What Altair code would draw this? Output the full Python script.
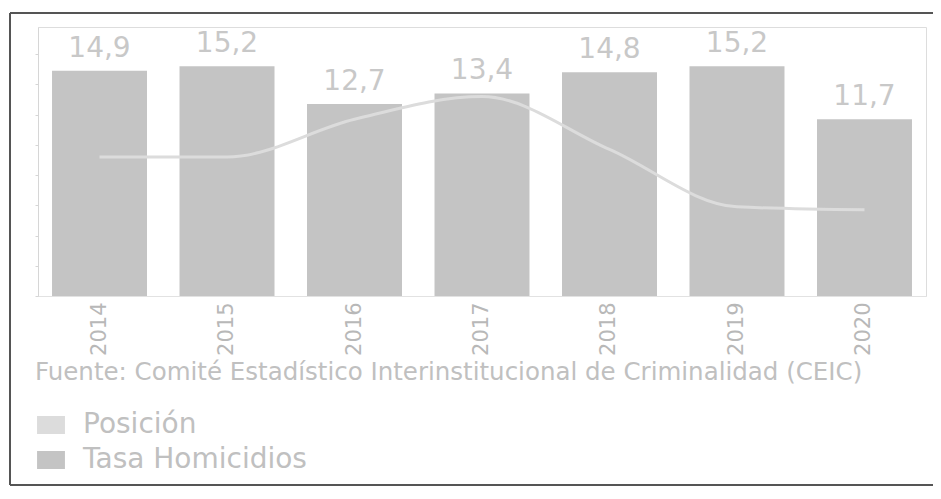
import altair as alt
import pandas as pd

years = ["2014", "2015", "2016", "2017", "2018", "2019", "2020"]
tasa_homicidios = [14.9, 15.2, 12.7, 13.4, 14.8, 15.2, 11.7]
posicion = [9.2, 9.2, 11.7, 13.2, 9.7, 5.9, 5.7]
series_names = ["Posición", "Tasa Homicidios"]
series_colors = ["#dcdcdc", "#c4c4c4"]
fuente = "Fuente: Comité Estadístico Interinstitucional de Criminalidad (CEIC)"

df = pd.DataFrame({
    "year": years,
    "tasa": tasa_homicidios,
    "posicion": posicion,
    "label": [f"{v:.1f}".replace(".", ",") for v in tasa_homicidios],
})

FONT = "DejaVu Sans"
TXT = "#c0c0c0"

color_scale = alt.Scale(domain=series_names, range=series_colors)

x = alt.X("year:N", sort=years, title=None,
          scale=alt.Scale(paddingInner=0.255, paddingOuter=0.11),
          axis=alt.Axis(labelAngle=-90, labelFontSize=21, labelColor="#b8b8b8",
                        labelFont=FONT, ticks=False, labelPadding=6,
                        domainColor="#e2e2e2"))
y = alt.Y("tasa:Q", title=None, scale=alt.Scale(domain=[0, 17.8], nice=False),
          axis=alt.Axis(labels=False, grid=False, domainColor="#d6d6d6",
                        tickColor="#d6d6d6", tickSize=3, tickCount=9))

base = alt.Chart(df)

bars = base.mark_bar().encode(
    x=x, y=y,
    color=alt.Color("s:N", scale=color_scale, title=None,
                    legend=alt.Legend(orient="none", legendX=-1, legendY=384,
                                      symbolType="M-1.55,-1H1.55V1H-1.55Z",
                                      symbolSize=324,
                                      symbolStrokeWidth=0, labelFontSize=28,
                                      labelFont=FONT, labelColor=TXT,
                                      labelLimit=0,
                                      rowPadding=7, labelOffset=18)),
).transform_calculate(s="'Tasa Homicidios'")

line = base.mark_line(strokeWidth=3, interpolate="monotone").encode(
    x=alt.X("year:N", sort=years),
    y=alt.Y("posicion:Q"),
    color=alt.Color("s:N", scale=color_scale, title=None),
).transform_calculate(s="'Posición'")

labels = base.mark_text(baseline="bottom", dy=-8, fontSize=28, font=FONT,
                        color="#c8c8c8").encode(
    x=alt.X("year:N", sort=years),
    y=alt.Y("tasa:Q"),
    text="label:N",
)

note = alt.Chart(pd.DataFrame({"t": [fuente]})).mark_text(
    align="left", baseline="middle", fontSize=24.5, font=FONT, color=TXT
).encode(x=alt.value(-3), y=alt.value(346), text="t:N")

frame_df = pd.DataFrame({"t": [0]})
frame_top = alt.Chart(frame_df).mark_rule(stroke="#555555", strokeWidth=2).encode(
    x=alt.value(-28), x2=alt.value(960), y=alt.value(-14))
frame_left = alt.Chart(frame_df).mark_rule(stroke="#555555", strokeWidth=2).encode(
    x=alt.value(-28), y=alt.value(-14), y2=alt.value(458))
frame_bottom = alt.Chart(frame_df).mark_rule(stroke="#555555", strokeWidth=2).encode(
    x=alt.value(-28), x2=alt.value(960), y=alt.value(458))

chart = alt.layer(bars, line, labels, note, frame_top, frame_left, frame_bottom).properties(
    width=888, height=269,
    autosize=alt.AutoSizeParams(type="none"),
    padding={"left": 30, "top": 19, "right": 7, "bottom": 195},
).configure_view(stroke=None).configure(background="white")

chart.save("out.html", embed_options={"renderer": "svg", "actions": False})
